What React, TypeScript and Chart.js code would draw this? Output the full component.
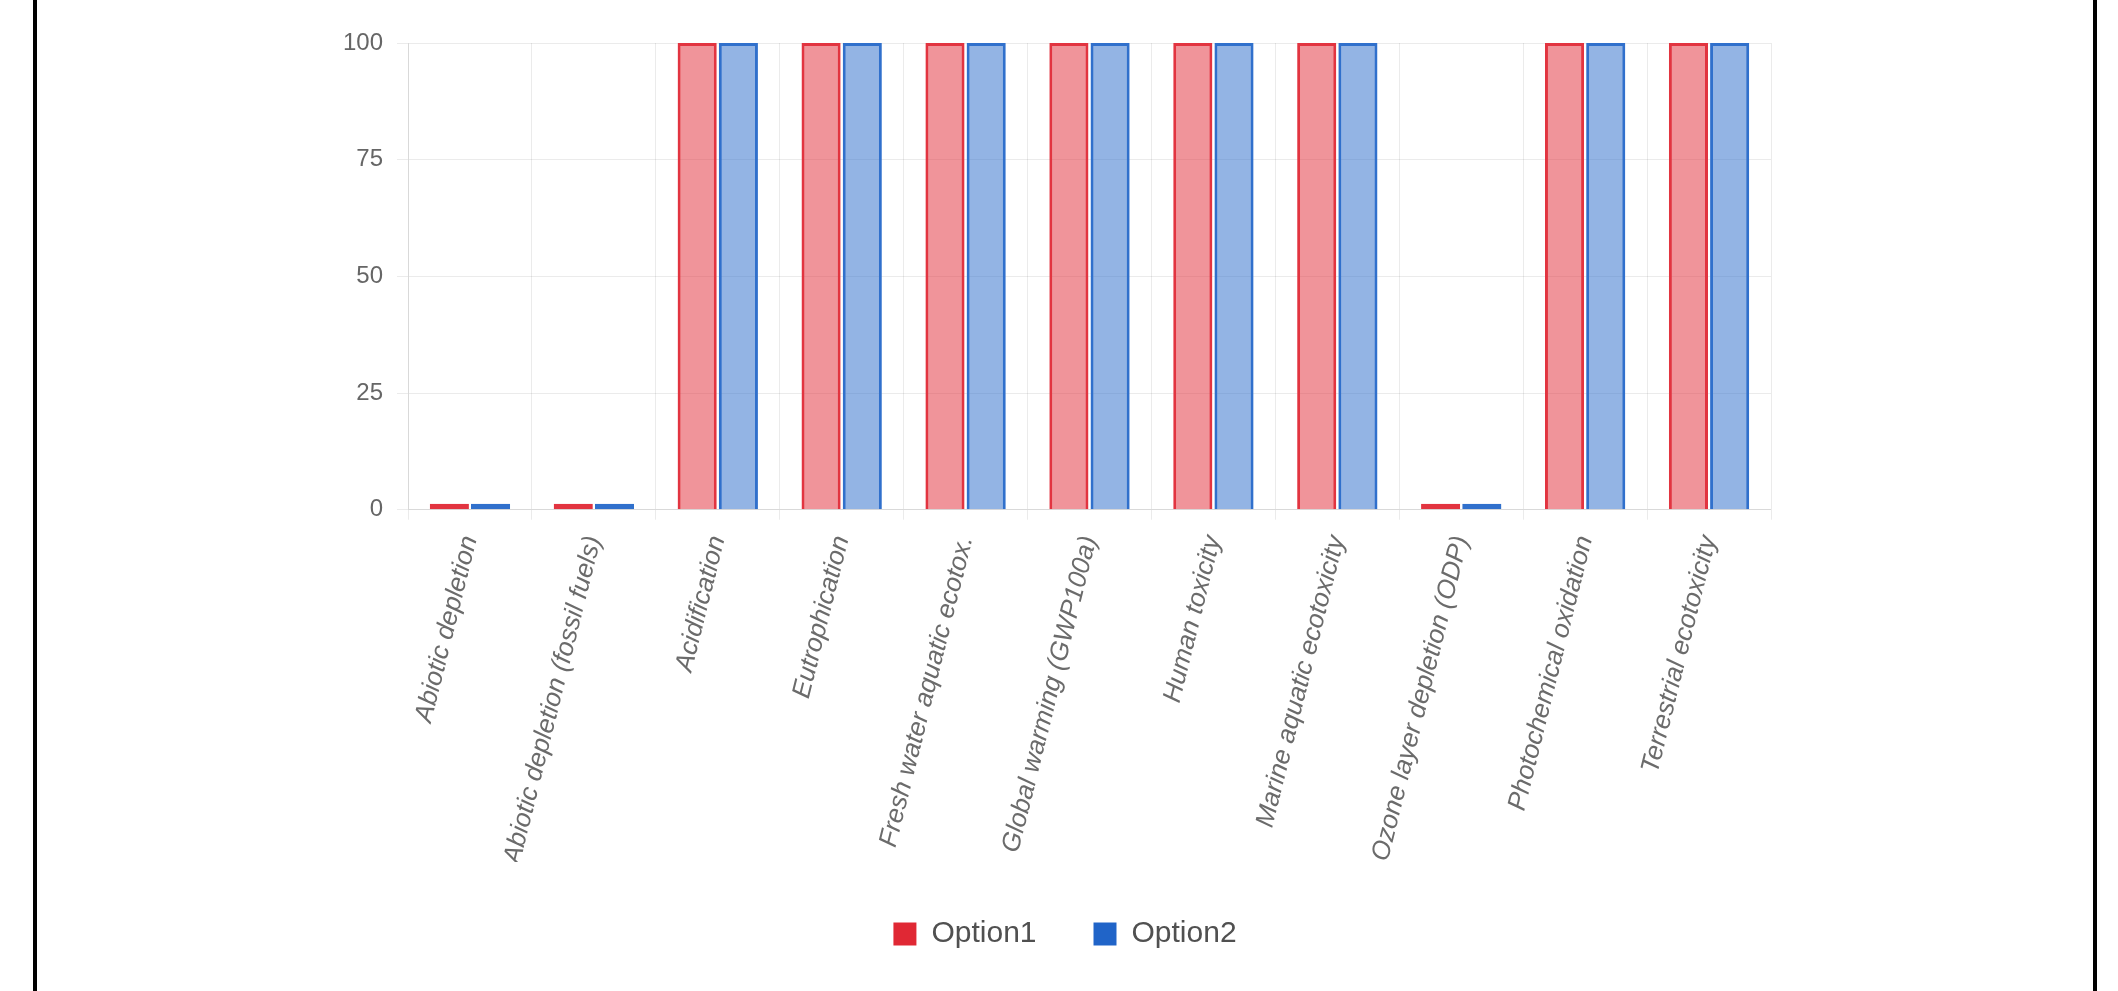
import React, { useEffect, useRef } from "react";
import { Chart, registerables } from "chart.js";

Chart.register(...registerables);

const categories = [
  "Abiotic depletion",
  "Abiotic depletion (fossil fuels)",
  "Acidification",
  "Eutrophication",
  "Fresh water aquatic ecotox.",
  "Global warming (GWP100a)",
  "Human toxicity",
  "Marine aquatic ecotoxicity",
  "Ozone layer depletion (ODP)",
  "Photochemical oxidation",
  "Terrestrial ecotoxicity",
];

const option1Values = [0, 0, 100, 100, 100, 100, 100, 100, 0, 100, 100];
const option2Values = [0, 0, 100, 100, 100, 100, 100, 100, 0, 100, 100];

const yTicks = [0, 25, 50, 75, 100];

const FONT = "'Liberation Sans', Arial, Helvetica, sans-serif";
const RED = "rgb(226, 52, 64)";
const RED_FILL = "rgba(226, 52, 64, 0.53)";
const BLUE = "rgb(48, 112, 204)";
const BLUE_FILL = "rgba(48, 112, 204, 0.52)";
const RED_SOLID = "rgb(224, 40, 52)";
const BLUE_SOLID = "rgb(32, 100, 200)";
const GRID = "rgba(0, 0, 0, 0.08)";

const CANVAS_W = 2056;
const CANVAS_H = 991;

export default function App() {
  const ref = useRef<HTMLCanvasElement | null>(null);

  useEffect(() => {
    if (!ref.current) return;
    const solid = [RED_SOLID, BLUE_SOLID];
    const chart = new Chart(ref.current, {
      type: "bar",
      data: {
        labels: categories,
        datasets: [
          {
            label: "Option1",
            data: option1Values,
            backgroundColor: RED_FILL,
            borderColor: RED,
          },
          {
            label: "Option2",
            data: option2Values,
            backgroundColor: BLUE_FILL,
            borderColor: BLUE,
          },
        ],
      },
      options: {
        responsive: false,
        animation: false,
        devicePixelRatio: 1,
        layout: { padding: { left: 0, right: 0, top: 43, bottom: 32 } },
        datasets: {
          bar: {
            categoryPercentage: 0.665,
            barPercentage: 0.95,
            borderWidth: 3,
            minBarLength: 6,
            borderSkipped: (ctx: any) => (ctx.raw === 0 ? false : "start"),
          } as any,
        },
        scales: {
          x: {
            grid: { color: GRID, tickLength: 10, offset: true },
            border: { color: GRID },
            afterFit: (axis: any) => {
              axis.height = axis.height - 18;
            },
            ticks: {
              minRotation: 76,
              maxRotation: 76,
              autoSkip: false,
              padding: 13,
              color: "#6b6b6b",
              font: { family: FONT, size: 26, style: "italic" },
            },
          },
          y: {
            position: "left",
            min: 0,
            max: 100,
            afterBuildTicks: (axis: any) => {
              axis.ticks = yTicks.map((v) => ({ value: v }));
            },
            afterFit: (axis: any) => {
              axis.width = 371;
            },
            grid: { color: GRID, tickLength: 11 },
            border: { color: GRID },
            ticks: {
              padding: 14,
              color: "#666",
              font: { family: FONT, size: 24 },
            },
          },
          yRightSpace: {
            type: "linear",
            position: "right",
            display: true,
            afterFit: (axis: any) => {
              axis.width = 322;
            },
            grid: { display: false, drawOnChartArea: false },
            border: { display: false },
            ticks: { display: false },
          },
        },
        plugins: {
          tooltip: { enabled: false },
          legend: {
            position: "bottom",
            labels: {
              boxWidth: 23,
              boxHeight: 23,
              padding: 57,
              color: "#505050",
              font: { family: FONT, size: 30 },
              generateLabels: (c: any) => {
                const items = Chart.defaults.plugins.legend.labels.generateLabels(c);
                return items.map((it: any, i: number) => ({
                  ...it,
                  fillStyle: solid[i],
                  strokeStyle: solid[i],
                  lineWidth: 0,
                }));
              },
            },
          },
        },
      },
    });
    return () => chart.destroy();
  }, []);

  return (
    <div
      style={{
        position: "absolute",
        left: 33,
        top: 0,
        width: CANVAS_W,
        height: CANVAS_H,
        borderLeft: "4px solid #000",
        borderRight: "4px solid #000",
        background: "#fff",
        overflow: "hidden",
      }}
    >
      <canvas
        ref={ref}
        width={CANVAS_W}
        height={CANVAS_H}
        style={{ display: "block", width: CANVAS_W, height: CANVAS_H }}
      />
    </div>
  );
}
